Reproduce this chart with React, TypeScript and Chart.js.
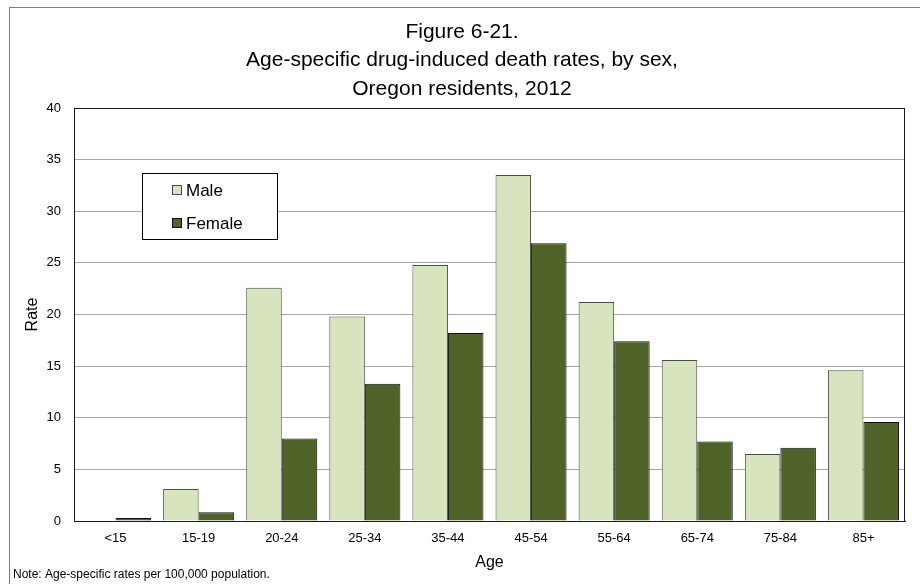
import { useEffect, useRef } from "react";
import { Chart, registerables } from "chart.js";

Chart.register(...registerables);

const CATEGORIES = ["<15", "15-19", "20-24", "25-34", "35-44", "45-54", "55-64", "65-74", "75-84", "85+"];
const MALE = [0, 3.1, 22.6, 19.8, 24.8, 33.5, 21.2, 15.6, 6.5, 14.6];
const FEMALE = [0.3, 0.85, 8.0, 13.3, 18.2, 26.9, 17.4, 7.7, 7.1, 9.6];
const SERIES_NAMES = ["Male", "Female"];
const Y_MIN = 0;
const Y_MAX = 40;
const Y_STEP = 5;
const TITLE_LINES = ["Figure 6-21.", "Age-specific drug-induced death rates, by sex,", "Oregon residents, 2012"];
const X_TITLE = "Age";
const Y_TITLE = "Rate";
const NOTE = "Note: Age-specific rates per 100,000 population.";

const FONT = "'Liberation Sans', Arial, Helvetica, sans-serif";
const MALE_FILL = "#d7e4bd";
const MALE_BORDER = "#4a4a4a";
const FEMALE_FILL = "#4f6228";
const FEMALE_BORDER = "#111111";

const decorPlugin = {
  id: "decor",
  beforeDraw(chart: any) {
    const ctx = chart.ctx;
    ctx.save();
    ctx.fillStyle = "#ffffff";
    ctx.fillRect(0, 0, chart.width, chart.height);
    ctx.strokeStyle = "#7a7a7a";
    ctx.lineWidth = 1;
    ctx.strokeRect(9.5, 7.5, chart.width + 50, chart.height + 50);
    ctx.restore();
  },
  afterDatasetsDraw(chart: any) {
    const ctx = chart.ctx;
    const a = chart.chartArea;
    ctx.save();
    ctx.strokeStyle = "#1a1a1a";
    ctx.lineWidth = 1;
    ctx.strokeRect(Math.round(a.left) + 0.5, Math.round(a.top) + 0.5, Math.round(a.right - a.left) - 1, Math.round(a.bottom - a.top));
    const lx = Math.round(a.left) + 68;
    const ly = Math.round(a.top) + 65;
    const lw = 135;
    const lh = 66;
    ctx.fillStyle = "#ffffff";
    ctx.fillRect(lx, ly, lw, lh);
    ctx.strokeStyle = "#000000";
    ctx.strokeRect(lx + 0.5, ly + 0.5, lw, lh);
    ctx.font = `17px ${FONT}`;
    ctx.textBaseline = "middle";
    ctx.textAlign = "left";
    chart.data.datasets.forEach((ds: any, i: number) => {
      const cy = ly + 17 + i * 33;
      ctx.fillStyle = ds.backgroundColor;
      ctx.fillRect(lx + 30, cy - 5, 10, 10);
      ctx.strokeStyle = ds.borderColor;
      ctx.strokeRect(lx + 30.5, cy - 4.5, 9, 9);
      ctx.fillStyle = "#000000";
      ctx.fillText(ds.label, lx + 44, cy + 1);
    });
    ctx.restore();
  },
  afterDraw(chart: any) {
    const ctx = chart.ctx;
    ctx.save();
    ctx.fillStyle = "#000000";
    ctx.textAlign = "center";
    ctx.textBaseline = "middle";
    ctx.font = `21px ${FONT}`;
    TITLE_LINES.forEach((t, i) => {
      ctx.fillText(t, 462, 32 + i * 28.5);
    });
    ctx.textAlign = "left";
    ctx.font = `12px ${FONT}`;
    ctx.fillText(NOTE, 13, 575);
    ctx.restore();
  },
};

export default function App() {
  const ref = useRef<HTMLCanvasElement | null>(null);
  useEffect(() => {
    document.body.style.margin = "0";
    const canvas = ref.current;
    if (!canvas) return;
    Chart.defaults.font.family = FONT;
    Chart.defaults.color = "#000000";
    const chart = new Chart(canvas, {
      type: "bar",
      data: {
        labels: CATEGORIES,
        datasets: [
          {
            label: SERIES_NAMES[0],
            data: MALE,
            backgroundColor: MALE_FILL,
            borderColor: MALE_BORDER,
            borderWidth: 1,
            categoryPercentage: 0.855,
            barPercentage: 1,
          },
          {
            label: SERIES_NAMES[1],
            data: FEMALE,
            backgroundColor: FEMALE_FILL,
            borderColor: FEMALE_BORDER,
            borderWidth: 1,
            categoryPercentage: 0.855,
            barPercentage: 1,
          },
        ],
      },
      options: {
        animation: false,
        responsive: false,
        maintainAspectRatio: false,
        layout: { padding: { top: 108, left: 0, right: 15, bottom: 0 } },
        plugins: {
          legend: { display: false },
          title: { display: false },
          tooltip: { enabled: false },
        },
        scales: {
          x: {
            grid: { display: false, drawTicks: false },
            border: { display: true, color: "#000000", width: 1 },
            ticks: { font: { size: 13 }, padding: 10, color: "#000000", maxRotation: 0 },
            title: { display: true, text: X_TITLE, font: { size: 16 }, padding: { top: 0, bottom: 12 }, color: "#000000" },
            afterFit: (s: any) => {
              s.height = 63;
            },
          },
          y: {
            min: Y_MIN,
            max: Y_MAX,
            grid: { color: "#a8a8a8", lineWidth: 1, drawTicks: false },
            border: { display: true, color: "#000000", width: 1 },
            ticks: { stepSize: Y_STEP, font: { size: 13 }, padding: 13, color: "#000000" },
            title: { display: true, text: Y_TITLE, font: { size: 16 }, padding: { top: 23, bottom: 0 }, color: "#000000" },
            afterFit: (s: any) => {
              s.width = 74;
            },
          },
        },
      },
      plugins: [decorPlugin],
    });
    return () => chart.destroy();
  }, []);
  return (
    <div style={{ position: "absolute", left: 0, top: 0, width: 920, height: 584 }}>
      <canvas ref={ref} width={920} height={584} style={{ display: "block", width: 920, height: 584 }} />
    </div>
  );
}
